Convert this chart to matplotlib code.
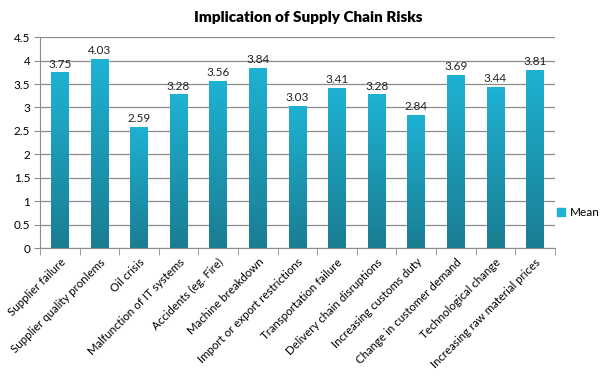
import numpy as np
import matplotlib
matplotlib.use("Agg")
import matplotlib.pyplot as plt
from matplotlib.colors import LinearSegmentedColormap
from matplotlib.patches import Patch

plt.rcParams['font.family'] = ['Lato', 'DejaVu Sans']

# ── Data ──────────────────────────────────────────────────────────────────────
risks = ["Supplier failure", "Supplier quality pronlems", "Oil crisis",
         "Malfunction of IT systems", "Accidents (eg. Fire)", "Machine breakdown",
         "Import or export restrictions", "Transportation failure",
         "Delivery chain disruptions", "Increasing customs duty",
         "Change in customer demand", "Technological change",
         "Increasing raw material prices"]
means = [3.75, 4.03, 2.59, 3.28, 3.56, 3.84, 3.03, 3.41, 3.28, 2.84, 3.69, 3.44, 3.81]
yticks = [0, 0.5, 1, 1.5, 2, 2.5, 3, 3.5, 4, 4.5]
ytick_labels = ["0", "0.5", "1", "1.5", "2", "2.5", "3", "3.5", "4", "4.5"]

top_col, bottom_col = "#1eb2d3", "#1a7d92"
grad = LinearSegmentedColormap.from_list("bar", [bottom_col, top_col])

fig = plt.figure(figsize=(6.05, 3.83), dpi=100)
ax = fig.add_axes([0.066, 0.352, 0.851, 0.551])

x = np.arange(len(risks))
bars = ax.bar(x, means, width=0.44, color=top_col, zorder=2)

# vertical gradient inside each bar
for b in bars:
    bx, by = b.get_x(), b.get_y()
    w, h = b.get_width(), b.get_height()
    img = ax.imshow(np.linspace(0, 1, 256).reshape(-1, 1), cmap=grad, origin="lower",
                    extent=[bx, bx + w, by, by + h], aspect="auto", zorder=2.5)
    img.set_clip_path(b)
    ax.text(bx + w / 2, h + 0.06, f"{h:.2f}", ha="center", va="bottom",
            fontsize=8.5, color="#222222", zorder=3)
ax.set_xlim(-0.5, len(risks) - 0.5)
ax.set_ylim(0, 4.5)

ax.set_yticks(yticks)
ax.set_yticklabels(ytick_labels, fontsize=8.5)
ax.yaxis.grid(True, color="#8c8c8c", lw=0.9, zorder=0)
ax.set_axisbelow(True)

ax.set_xticks(x)
ax.set_xticklabels(risks, rotation=45, ha="right", rotation_mode="anchor", fontsize=8.3)
ax.set_xticks(np.arange(-0.5, len(risks), 1), minor=True)
ax.tick_params(axis="x", which="major", length=0, pad=6)
ax.tick_params(axis="x", which="minor", length=5, color="#8c8c8c")
ax.tick_params(axis="y", length=4, color="#8c8c8c", pad=3)

for s in ["top", "right"]:
    ax.spines[s].set_visible(False)
for s in ["left", "bottom"]:
    ax.spines[s].set_color("#8c8c8c")

fig.text(0.51, 0.955, "Implication of Supply Chain Risks", ha="center", va="center",
         fontsize=11, fontweight="heavy")

fig.legend(handles=[Patch(color=top_col, label="Mean")], loc="center left",
           bbox_to_anchor=(0.918, 0.445), frameon=False, fontsize=8.5,
           handlelength=0.7, handleheight=0.7, handletextpad=0.4, borderaxespad=0,
           borderpad=0.1)

fig.savefig("out.png", dpi=100)
